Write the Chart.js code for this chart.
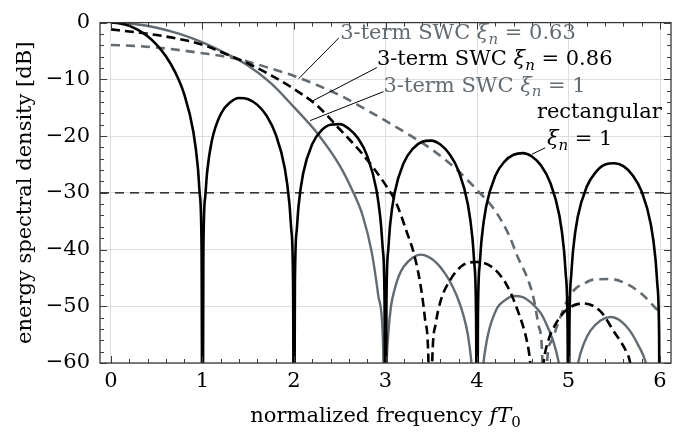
<!DOCTYPE html>
<html>
<head>
<meta charset="utf-8">
<script src="https://cdn.jsdelivr.net/npm/chart.js@4.4.1/dist/chart.umd.min.js"></script>
<style>
  html, body { margin: 0; padding: 0; background: #fff; }
</style>
</head>
<body>
<canvas id="esd" width="694" height="434"></canvas>
<script>
/* ===== data ===== */
const GRAY = '#626b71';
const FONT = '"DejaVu Serif", serif';

const xTicks = [0, 1, 2, 3, 4, 5, 6];
const xTickLabels = ['0', '1', '2', '3', '4', '5', '6'];
const yTicks = [-60, -50, -40, -30, -20, -10, 0];
const yTickLabels = ['\u221260', '\u221250', '\u221240', '\u221230', '\u221220', '\u221210', '0'];

// rectangular, xi_n = 1 (black solid)
const rectX = [0, 0.1, 0.2, 0.3, 0.4, 0.5, 0.6, 0.7, 0.8, 0.9, 0.95, 0.97, 0.99, 1,
  1.01, 1.03, 1.05, 1.1, 1.2, 1.3, 1.4, 1.5, 1.6, 1.7, 1.8, 1.9, 1.95, 1.97, 1.99, 2,
  2.01, 2.03, 2.05, 2.1, 2.2, 2.3, 2.4, 2.5, 2.6, 2.7, 2.8, 2.9, 2.95, 2.97, 2.99, 3,
  3.01, 3.03, 3.05, 3.1, 3.2, 3.3, 3.4, 3.5, 3.6, 3.7, 3.8, 3.9, 3.95, 3.97, 3.99, 4,
  4.01, 4.03, 4.05, 4.1, 4.2, 4.3, 4.4, 4.5, 4.6, 4.7, 4.8, 4.9, 4.95, 4.97, 4.99, 5,
  5.01, 5.03, 5.05, 5.1, 5.2, 5.3, 5.4, 5.5, 5.6, 5.7, 5.8, 5.9, 5.95, 5.97, 5.99, 6];
const rectY = [0, -0.14, -0.58, -1.33, -2.42, -3.92, -5.94, -8.69, -12.62, -19.23, -25.6, -30.2, -39.9, -90,
  -40.1, -30.7, -26.5, -21.0, -16.1, -14.1, -13.3, -13.5, -14.5, -16.4, -19.7, -25.7, -31.9, -36.4, -46.0, -90,
  -46.1, -36.6, -32.3, -26.6, -21.4, -19.0, -18.0, -17.9, -18.7, -20.4, -23.5, -29.4, -35.5, -39.9, -49.5, -90,
  -49.6, -40.1, -35.7, -30.0, -24.7, -22.2, -21.0, -20.8, -21.5, -23.2, -26.2, -32.0, -38.0, -42.4, -52.0, -90,
  -52.1, -42.6, -38.2, -32.4, -27.0, -24.5, -23.3, -23.0, -23.6, -25.2, -28.2, -34.0, -40.0, -44.4, -54.0, -90,
  -54.0, -44.5, -40.1, -34.3, -28.9, -26.3, -25.0, -24.8, -25.3, -26.9, -29.8, -35.6, -41.6, -46.0, -55.5, -90];

// 3-term SWC, xi_n = 0.86 (black dashed)
const swc86X = [0, 0.25, 0.5, 0.75, 1.0, 1.25, 1.5, 1.75, 2.0, 2.25, 2.5, 2.75, 3.0, 3.12, 3.23, 3.31, 3.38, 3.43, 3.47, 3.49,
  3.51, 3.55, 3.6, 3.71, 3.85, 4.0, 4.18, 4.33, 4.45, 4.55, 4.58, 4.65,
  4.73, 4.78, 4.84, 4.96, 5.16, 5.35, 5.49, 5.64, 5.67, 5.78];
const swc86Y = [-1.2, -1.65, -2.2, -2.9, -3.9, -5.5, -7.2, -9.3, -11.7, -14.6, -18.8, -23.2, -28.6, -31.9, -36.8, -40.7, -46.0, -52.0, -60, -80,
  -60, -53.0, -49.2, -45.3, -42.7, -42.2, -43.3, -46.4, -51.0, -56.5, -59.7, -75,
  -59.7, -56.0, -53.7, -50.9, -49.5, -50.9, -54.3, -58.3, -59.7, -75];

// 3-term SWC, xi_n = 1 (gray solid)
const swc1X = [0, 0.25, 0.5, 0.75, 1.0, 1.25, 1.5, 1.75, 2.0, 2.25, 2.5, 2.65, 2.75, 2.85, 2.92, 2.97, 3.0,
  3.01, 3.03, 3.06, 3.1, 3.15, 3.2, 3.3, 3.38, 3.47, 3.56, 3.65, 3.71, 3.78, 3.85, 3.9, 3.94, 4.0,
  4.07, 4.12, 4.22, 4.3, 4.4, 4.5, 4.62, 4.7, 4.76, 4.83, 4.89, 5.0,
  5.11, 5.17, 5.24, 5.35, 5.46, 5.57, 5.67, 5.76, 5.84, 6.0];
const swc1Y = [0, -0.25, -0.9, -2.0, -3.5, -5.4, -7.6, -10.7, -14.9, -19.4, -25.2, -30.0, -34.0, -40.5, -48.0, -55.0, -75,
  -62, -55.0, -50.0, -47.0, -44.5, -43.0, -41.4, -40.9, -41.3, -42.4, -44.2, -45.8, -48.2, -51.5, -55.0, -60, -72,
  -60, -55.0, -50.3, -49.0, -48.2, -48.4, -49.8, -51.3, -53.2, -56.0, -59.7, -72,
  -59.7, -56.5, -54.3, -52.5, -51.9, -52.6, -54.3, -56.8, -59.7, -72];

// 3-term SWC, xi_n = 0.63 (gray dashed)
const swc63X = [0, 0.25, 0.5, 0.75, 1.0, 1.25, 1.5, 1.75, 2.0, 2.25, 2.5, 2.75, 3.0, 3.25, 3.5, 3.75, 4.0, 4.2, 4.35, 4.45, 4.55, 4.62, 4.67, 4.71, 4.74,
  4.77, 4.82, 4.87, 4.98, 5.07, 5.17, 5.27, 5.46, 5.64, 5.82, 5.95, 6.0];
const swc63Y = [-3.95, -4.1, -4.4, -4.85, -5.4, -6.0, -6.9, -8.1, -9.4, -11.0, -12.8, -15.0, -17.3, -19.7, -22.3, -25.5, -29.5, -33.2, -37.5, -41.5, -45.0, -48.7, -53.2, -57.7, -75,
  -59.0, -56.0, -53.7, -49.2, -47.0, -46.0, -45.3, -45.2, -46.1, -48.1, -50.3, -51.0];

// -30 dB reference
const refX = [-0.12, 6.12];
const refY = [-30, -30];

// annotations (data coordinates)
const labelTexts = [
  [{ t: '3-term SWC ' }, { t: '\u03be', i: 1 }, { t: 'n', i: 1, sub: 1 }, { t: ' = 0.63' }],
  [{ t: '3-term SWC ' }, { t: '\u03be', i: 1 }, { t: 'n', i: 1, sub: 1 }, { t: ' = 0.86' }],
  [{ t: '3-term SWC ' }, { t: '\u03be', i: 1 }, { t: 'n', i: 1, sub: 1 }, { t: ' = 1' }],
  [{ t: 'rectangular' }],
  [{ t: '\u03be', i: 1 }, { t: 'n', i: 1, sub: 1 }, { t: ' = 1' }]
];
const labelX = [2.505, 2.906, 2.978, 6.02, 4.764];
const labelY = [-2.94, -7.47, -12.17, -16.8, -21.6];
const labelAlign = ['left', 'left', 'left', 'right', 'left'];
const labelColor = [GRAY, '#000', GRAY, '#000', '#000'];
const leaders = [
  [2.05, -9.9, 2.49, -2.7],
  [2.196, -13.87, 2.906, -7.93],
  [2.177, -17.27, 2.978, -12.17],
  [4.6, -23.2, 4.745, -22.07]
];

const pts = (xs, ys) => xs.map((x, i) => ({ x, y: ys[i] }));

/* ===== rich text helper ===== */
function richFont(r, size) {
  return (r.i ? 'italic ' : '') + (r.sub ? Math.round(size * 0.7) : size) + 'px ' + FONT;
}
function drawRich(ctx, runs, x, y, size, color, align) {
  let w = 0;
  runs.forEach(r => { ctx.font = richFont(r, size); w += ctx.measureText(r.t).width; });
  let cx = align === 'center' ? x - w / 2 : (align === 'right' ? x - w : x);
  ctx.fillStyle = color;
  ctx.textAlign = 'left';
  ctx.textBaseline = 'alphabetic';
  runs.forEach(r => {
    ctx.font = richFont(r, size);
    ctx.fillText(r.t, cx, y + (r.sub ? size * 0.22 : 0));
    cx += ctx.measureText(r.t).width;
  });
}

/* ===== frame, inward ticks, annotations ===== */
const decor = {
  id: 'decor',
  afterDraw(chart) {
    const { ctx, chartArea: a, scales: { x, y } } = chart;
    ctx.save();
    // frame
    ctx.strokeStyle = '#3a3a3a';
    ctx.lineWidth = 1.3;
    ctx.strokeRect(a.left, a.top, a.right - a.left, a.bottom - a.top);
    // ticks
    ctx.lineWidth = 1;
    ctx.beginPath();
    for (let k = 0; k <= 30; k++) {
      const px = Math.round(x.getPixelForValue(k * 0.2)) + 0.5;
      const len = k % 5 === 0 ? 7 : 4;
      ctx.moveTo(px, a.bottom); ctx.lineTo(px, a.bottom - len);
      ctx.moveTo(px, a.top); ctx.lineTo(px, a.top + len);
    }
    for (let k = 0; k <= 30; k++) {
      const py = Math.round(y.getPixelForValue(-60 + k * 2)) + 0.5;
      const len = k % 5 === 0 ? 7 : 4;
      ctx.moveTo(a.left, py); ctx.lineTo(a.left + len, py);
      ctx.moveTo(a.right, py); ctx.lineTo(a.right - len, py);
    }
    ctx.stroke();
    // leaders
    ctx.strokeStyle = '#000';
    ctx.lineWidth = 1;
    ctx.beginPath();
    leaders.forEach(l => {
      ctx.moveTo(x.getPixelForValue(l[0]), y.getPixelForValue(l[1]));
      ctx.lineTo(x.getPixelForValue(l[2]), y.getPixelForValue(l[3]));
    });
    ctx.stroke();
    // labels
    labelTexts.forEach((runs, i) => {
      drawRich(ctx, runs, x.getPixelForValue(labelX[i]), y.getPixelForValue(labelY[i]), 21, labelColor[i], labelAlign[i]);
    });
    // x axis title
    drawRich(ctx, [{ t: 'normalized frequency ' }, { t: 'fT', i: 1 }, { t: '0', sub: 1 }],
      (a.left + a.right) / 2, 422, 21, '#000', 'center');
    ctx.restore();
  }
};

const lineBase = { fill: false, pointRadius: 0, cubicInterpolationMode: 'monotone' };

new Chart(document.getElementById('esd'), {
  type: 'line',
  data: {
    datasets: [
      { ...lineBase, data: pts(rectX, rectY), borderColor: '#000', borderWidth: 2.6 },
      { ...lineBase, data: pts(swc86X, swc86Y), borderColor: '#000', borderWidth: 2.6, borderDash: [9, 5] },
      { ...lineBase, data: pts(swc1X, swc1Y), borderColor: GRAY, borderWidth: 2.4 },
      { ...lineBase, data: pts(swc63X, swc63Y), borderColor: GRAY, borderWidth: 2.6, borderDash: [9, 6] },
      { ...lineBase, data: pts(refX, refY), borderColor: '#000', borderWidth: 1.2, borderDash: [9, 6] }
    ]
  },
  options: {
    responsive: false,
    animation: false,
    layout: { padding: { left: 0, right: 23, top: 10, bottom: 0 } },
    plugins: { legend: { display: false }, tooltip: { enabled: false } },
    scales: {
      x: {
        type: 'linear',
        min: -0.12, max: 6.12,
        afterBuildTicks: s => { s.ticks = xTicks.map(v => ({ value: v })); },
        afterFit: s => { s.height = 71; },
        ticks: {
          autoSkip: false, maxRotation: 0, padding: 6, color: '#000',
          font: { family: FONT, size: 21 },
          callback: v => xTickLabels[xTicks.indexOf(v)]
        },
        grid: { color: '#dedede', lineWidth: 1, drawTicks: false },
        border: { display: false }
      },
      y: {
        type: 'linear',
        min: -60, max: 0,
        afterBuildTicks: s => { s.ticks = yTicks.map(v => ({ value: v })); },
        afterFit: s => { s.width = 100; },
        ticks: {
          autoSkip: false, padding: 10, color: '#000',
          font: { family: FONT, size: 21 },
          callback: v => yTickLabels[yTicks.indexOf(v)]
        },
        grid: { color: '#dedede', lineWidth: 1, drawTicks: false },
        border: { display: false },
        title: {
          display: true, text: 'energy spectral density [dB]', color: '#000',
          font: { family: FONT, size: 21 }, padding: { top: 13, bottom: 0 }
        }
      }
    }
  },
  plugins: [decor]
});
</script>
</body>
</html>
